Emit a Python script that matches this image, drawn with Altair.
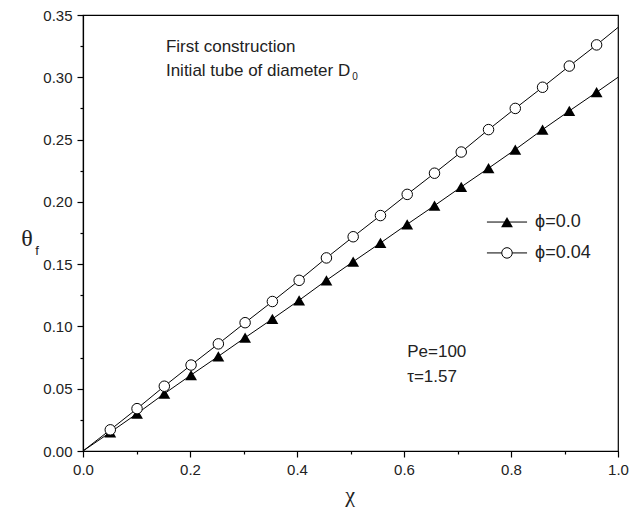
import altair as alt
import pandas as pd

# ---- data ----
chi_markers = [0.051, 0.101, 0.152, 0.202, 0.253, 0.303, 0.354, 0.404, 0.455, 0.505,
               0.556, 0.606, 0.657, 0.707, 0.758, 0.808, 0.859, 0.909, 0.960]
theta_phi0 = [0.015, 0.030, 0.046, 0.061, 0.076, 0.091, 0.106, 0.121, 0.137, 0.152,
              0.167, 0.182, 0.197, 0.212, 0.227, 0.242, 0.258, 0.273, 0.288]
theta_phi004 = [0.017, 0.034, 0.052, 0.069, 0.086, 0.103, 0.120, 0.137, 0.155, 0.172,
                0.189, 0.206, 0.223, 0.240, 0.258, 0.275, 0.292, 0.309, 0.326]
chi_line = [0.0] + chi_markers + [1.0]
theta_phi0_line = [0.0] + theta_phi0 + [0.300]
theta_phi004_line = [0.0] + theta_phi004 + [0.340]

x_ticks = [0.0, 0.1, 0.2, 0.3, 0.4, 0.5, 0.6, 0.7, 0.8, 0.9, 1.0]
y_ticks = [0.0, 0.025, 0.05, 0.075, 0.1, 0.125, 0.15, 0.175, 0.2, 0.225, 0.25,
           0.275, 0.3, 0.325, 0.35]

line0 = pd.DataFrame({"chi": chi_line, "theta": theta_phi0_line})
line1 = pd.DataFrame({"chi": chi_line, "theta": theta_phi004_line})
pts0 = pd.DataFrame({"chi": chi_markers, "theta": theta_phi0})
pts1 = pd.DataFrame({"chi": chi_markers, "theta": theta_phi004})

X = alt.X("chi:Q", scale=alt.Scale(domain=[0, 1], nice=False, zero=False),
          axis=alt.Axis(values=x_ticks, title=None, labelOverlap=False, labelFlush=False,
                        labelExpr="round(datum.value*10) % 2 == 0 ? format(datum.value, '.1f') : ''",
                        tickSize={"condition": {"test": "round(datum.value*10) % 2 == 0", "value": 6}, "value": 3},
                        labelPadding=5))
Y = alt.Y("theta:Q", scale=alt.Scale(domain=[0, 0.35], nice=False, zero=False),
          axis=alt.Axis(values=y_ticks, title=None, labelOverlap=False, labelFlush=False,
                        labelExpr="round(datum.value*40) % 2 == 0 ? format(datum.value, '.2f') : ''",
                        tickSize={"condition": {"test": "round(datum.value*40) % 2 == 0", "value": 6}, "value": 3},
                        labelPadding=5))

l0 = alt.Chart(line0).mark_line(color="black", strokeWidth=1).encode(x=X, y=Y)
l1 = alt.Chart(line1).mark_line(color="black", strokeWidth=1).encode(x=X, y=Y)
p0 = alt.Chart(pts0).mark_point(shape="triangle-up", filled=True, color="black",
                                size=140, opacity=1).encode(x=X, y=Y)
p1 = alt.Chart(pts1).mark_point(shape="circle", filled=True, fill="white", stroke="black",
                                strokeWidth=1, size=110, opacity=1).encode(x=X, y=Y)

# legend (positions in data units)
leg_rule = pd.DataFrame({"chi": [0.755, 0.755], "chi2": [0.83, 0.83], "theta": [0.1838, 0.159]})
leg_tri = pd.DataFrame({"chi": [0.7925], "theta": [0.1838]})
leg_cir = pd.DataFrame({"chi": [0.7925], "theta": [0.159]})
leg_txt = pd.DataFrame({"chi": [0.845, 0.845], "theta": [0.1838, 0.159], "label": ["ϕ=0.0", "ϕ=0.04"]})

lr = alt.Chart(leg_rule).mark_rule(color="black", strokeWidth=1).encode(x=X, x2="chi2:Q", y=Y)
lt = alt.Chart(leg_tri).mark_point(shape="triangle-up", filled=True, color="black",
                                   size=140, opacity=1).encode(x=X, y=Y)
lc = alt.Chart(leg_cir).mark_point(shape="circle", filled=True, fill="white", stroke="black",
                                   strokeWidth=1, size=110, opacity=1).encode(x=X, y=Y)
ltx = alt.Chart(leg_txt).mark_text(align="left", baseline="middle", font="Liberation Sans",
                                   fontSize=18, color="#222").encode(x=X, y=Y, text="label:N")

# annotations
ann = pd.DataFrame({"chi": [0.155, 0.155, 0.606, 0.606],
                    "theta": [0.3243, 0.305, 0.0795, 0.0594],
                    "label": ["First construction", "Initial tube of diameter D", "Pe=100", "τ=1.57"]})
ann_t = alt.Chart(ann).mark_text(align="left", baseline="middle", font="Liberation Sans",
                                 fontSize=17, color="#222").encode(x=X, y=Y, text="label:N")
sub = pd.DataFrame({"chi": [0.5035], "theta": [0.300], "label": ["0"]})
sub_t = alt.Chart(sub).mark_text(align="left", baseline="middle", font="Liberation Sans",
                                 fontSize=10, color="#222").encode(x=X, y=Y, text="label:N")

# axis titles
one = pd.DataFrame({"k": [0]})
ytitle = alt.Chart(one).mark_text(text="θ", font="Liberation Serif", fontSize=24, color="#222",
                                  baseline="middle", align="center").encode(
    x=alt.value(-56), y=alt.value(224))
ysub = alt.Chart(one).mark_text(text="f", font="Liberation Sans", fontSize=13, color="#222",
                                baseline="middle", align="center").encode(
    x=alt.value(-46), y=alt.value(236))
xtitle = alt.Chart(one).mark_text(text="χ", font="Liberation Serif", fontSize=22, color="#222",
                                  baseline="middle", align="center").encode(
    x=alt.value(267), y=alt.value(480))

chart = alt.layer(l0, l1, p0, p1, lr, lt, lc, ltx, ann_t, sub_t, ytitle, ysub, xtitle).properties(
    width=535, height=436,
    autosize=alt.AutoSizeParams(type="none"),
    padding={"left": 75, "top": 7, "right": 12, "bottom": 56},
).configure_view(stroke="black", strokeWidth=1.2).configure_axis(
    domainColor="black", domainWidth=1.2, tickColor="black", tickWidth=1.2,
    labelColor="#222", labelFont="Liberation Sans", labelFontSize=15, grid=False,
)

chart.save("out.html", embed_options={"renderer": "svg", "actions": False})
